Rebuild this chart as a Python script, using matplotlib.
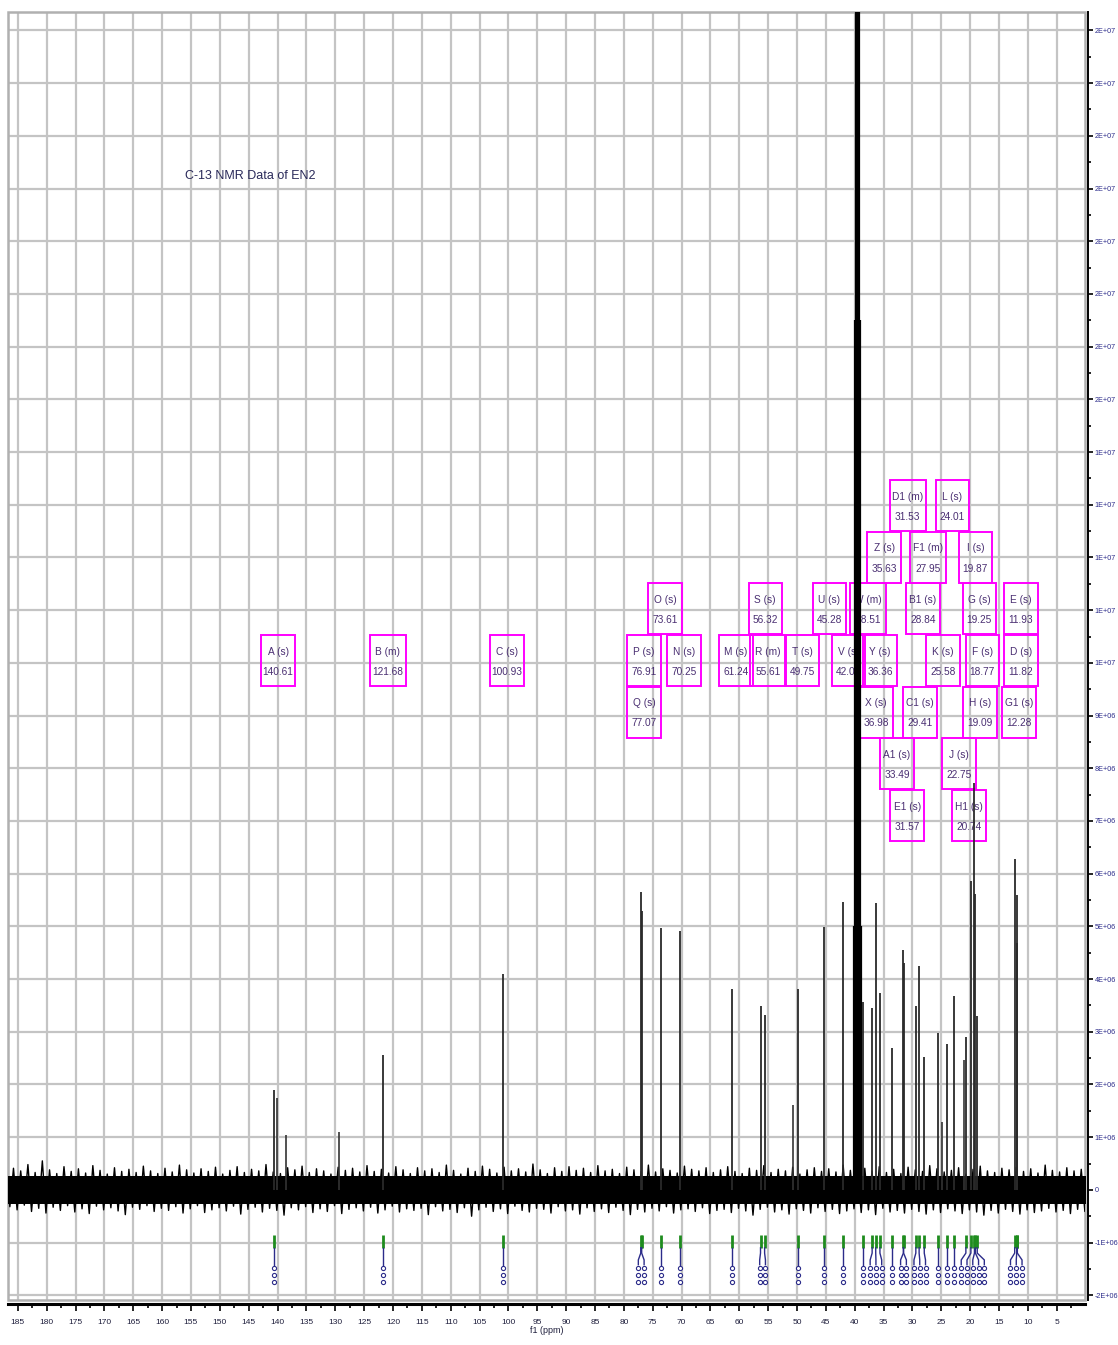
import matplotlib
matplotlib.use("Agg")
import matplotlib.pyplot as plt
from matplotlib.patches import Rectangle
from matplotlib.ticker import MultipleLocator, FuncFormatter

plt.rcParams["font.family"] = ["Liberation Sans Narrow", "Liberation Sans", "DejaVu Sans"]

# assigned 13C signals (shift in ppm, intensity in units of 1e6)
peak_labels = ["A", "B", "C", "Q", "P", "O", "N", "M", "S", "R", "T", "U",
               "V", "W", "X", "Y", "Z", "A1", "E1", "D1", "C1", "B1", "F1",
               "K", "L", "J", "H1", "I", "G", "H", "F", "G1", "E", "D"]
peak_mult = ["s", "m", "s", "s", "s", "s", "s", "s", "s", "m", "s", "s",
             "s", "m", "s", "s", "s", "s", "s", "m", "s", "s", "m",
             "s", "s", "s", "s", "s", "s", "s", "s", "s", "s", "s"]
peak_ppm = [140.61, 121.68, 100.93, 77.07, 76.91, 73.61, 70.25, 61.24,
            56.32, 55.61, 49.75, 45.28, 42.03, 38.51, 36.98, 36.36, 35.63,
            33.49, 31.57, 31.53, 29.41, 28.84, 27.95, 25.58, 24.01, 22.75,
            20.74, 19.87, 19.25, 19.09, 18.77, 12.28, 11.93, 11.82]
peak_height = [1.90, 2.55, 4.10, 5.65, 5.30, 4.97, 4.91, 3.81,
               3.49, 3.32, 3.81, 4.99, 5.46, 3.57, 3.45, 5.44, 3.74,
               2.70, 4.55, 4.30, 3.48, 4.25, 2.52, 2.98, 2.77, 3.68,
               2.90, 5.86, 7.72, 5.62, 3.30, 6.28, 4.69, 5.60]

# weaker lines without an assignment
extra_ppm = [140.10, 138.50, 129.40, 50.70, 24.95, 21.10]
extra_height = [1.75, 1.05, 1.10, 1.61, 1.29, 2.47]

# DMSO-d6 septet
solvent_ppm = [40.13, 39.92, 39.71, 39.50, 39.29, 39.08, 38.87]
solvent_height = [5.0, 16.5, 33.0, 38.5, 33.0, 16.5, 5.0]

# baseline noise: solid core half-width plus spike tips (every 1.25 ppm from 187 ppm)
noise_core = 0.26
noise_top = [0.30, 0.41, 0.36, 0.48, 0.33, 0.55, 0.38, 0.31, 0.44, 0.35,
             0.40, 0.32, 0.46, 0.37, 0.30, 0.42, 0.35, 0.39, 0.33, 0.45,
             0.36, 0.31, 0.41, 0.34, 0.47, 0.38, 0.32, 0.40, 0.35, 0.43,
             0.30, 0.37, 0.44, 0.33, 0.39, 0.36, 0.48, 0.34, 0.31, 0.42,
             0.38, 0.45, 0.33, 0.40, 0.36, 0.30, 0.43, 0.37, 0.41, 0.34,
             0.46, 0.35, 0.39, 0.32, 0.44, 0.38, 0.31, 0.42, 0.36, 0.40,
             0.33, 0.47, 0.37, 0.30, 0.41, 0.35, 0.45, 0.39, 0.32, 0.43,
             0.36, 0.40, 0.34, 0.49, 0.38, 0.31, 0.42, 0.35, 0.44, 0.37,
             0.41, 0.33, 0.46, 0.36, 0.39, 0.31, 0.43, 0.38, 0.35, 0.47,
             0.34, 0.40, 0.37, 0.32, 0.45, 0.39, 0.36, 0.42, 0.33, 0.38,
             0.44, 0.35, 0.31, 0.41, 0.37, 0.46, 0.33, 0.39, 0.36, 0.43,
             0.30, 0.38, 0.42, 0.35, 0.40, 0.34, 0.47, 0.37, 0.32, 0.41,
             0.36, 0.44, 0.33, 0.39, 0.31, 0.43, 0.38, 0.35, 0.46, 0.40,
             0.34, 0.37, 0.42, 0.30, 0.39, 0.45, 0.36, 0.33, 0.41, 0.38,
             0.43, 0.35, 0.40, 0.32, 0.47, 0.37, 0.34, 0.42, 0.36, 0.39,
             0.33]
noise_bottom = [-0.32, -0.38, -0.29, -0.41, -0.35, -0.44, -0.33, -0.39, -0.30, -0.42,
                -0.36, -0.45, -0.31, -0.38, -0.34, -0.40, -0.47, -0.33, -0.37, -0.30,
                -0.41, -0.35, -0.39, -0.32, -0.44, -0.36, -0.30, -0.43, -0.38, -0.34,
                -0.40, -0.31, -0.46, -0.37, -0.33, -0.42, -0.35, -0.39, -0.48, -0.34,
                -0.38, -0.32, -0.43, -0.36, -0.41, -0.30, -0.45, -0.37, -0.34, -0.40,
                -0.33, -0.44, -0.38, -0.31, -0.42, -0.36, -0.39, -0.35, -0.47, -0.32,
                -0.40, -0.37, -0.43, -0.34, -0.50, -0.38, -0.33, -0.41, -0.36, -0.45,
                -0.31, -0.39, -0.42, -0.35, -0.37, -0.44, -0.32, -0.40, -0.38, -0.46,
                -0.34, -0.41, -0.36, -0.43, -0.33, -0.39, -0.47, -0.37, -0.42, -0.35,
                -0.40, -0.32, -0.44, -0.38, -0.36, -0.41, -0.34, -0.45, -0.39, -0.37,
                -0.43, -0.35, -0.40, -0.48, -0.37, -0.33, -0.42, -0.38, -0.46, -0.36,
                -0.39, -0.44, -0.34, -0.41, -0.37, -0.45, -0.40, -0.36, -0.43, -0.38,
                -0.47, -0.35, -0.42, -0.39, -0.44, -0.37, -0.41, -0.46, -0.38, -0.43,
                -0.36, -0.40, -0.45, -0.38, -0.42, -0.48, -0.39, -0.44, -0.37, -0.41,
                -0.46, -0.38, -0.43, -0.40, -0.35, -0.42, -0.39, -0.45, -0.37, -0.41,
                -0.38]
NOISE_START = 187.0
NOISE_STEP = 1.25

# annotation box layout: centre (ppm) and stacking row, same order as peak_labels
box_center = [139.9, 120.9, 100.25, 76.5, 76.5, 72.9, 69.6, 60.6,
              55.5, 55.0, 49.1, 44.4, 41.1, 37.7, 36.3, 35.6, 34.9,
              32.7, 30.9, 30.8, 28.7, 28.2, 27.3, 24.7, 23.1, 21.9,
              20.2, 19.1, 18.4, 18.3, 17.9, 11.5, 11.2, 11.2]
box_row = [3, 3, 3, 2, 3, 4, 3, 3,
           4, 3, 3, 4, 3, 4, 2, 3, 5,
           1, 0, 6, 2, 4, 5, 3, 6, 1,
           0, 5, 4, 2, 3, 2, 4, 3]

SCALE = 1e6
BOX_W = 5.8
BOX_H = 0.97
ROW0_TOP = 7.59
ROW_STEP = 0.98
GRID = "#c4c4c4"
MAGENTA = "#ff00ff"
LABEL_INK = "#4a2f72"
NAVY = "#2c2c8a"
GREEN = "#1e8c1e"


def y_fmt(v, _pos):
    if abs(v) < 1:
        return "0"
    return "%.0E" % v


def spread(xs, gap):
    # push neighbouring stacks apart so they keep a minimum spacing
    xs = list(xs)
    for _ in range(400):
        moved = False
        for i in range(len(xs) - 1):
            d = xs[i] - xs[i + 1]
            if d < gap - 1e-6:
                push = (gap - d) / 2
                xs[i] += push
                xs[i + 1] -= push
                moved = True
        if not moved:
            break
    return xs


fig = plt.figure(figsize=(11.18, 13.45), dpi=100)
ax = fig.add_axes([8 / 1118, 1 - 1300 / 1345, 1077 / 1118, 1288 / 1345])
ax.set_xlim(186.7, 0.1)
ax.set_ylim(-2.09 * SCALE, 22.35 * SCALE)

# grid + light frame
ax.xaxis.set_major_locator(MultipleLocator(5))
ax.xaxis.set_minor_locator(MultipleLocator(2.5))
ax.yaxis.set_major_locator(MultipleLocator(1 * SCALE))
ax.yaxis.set_minor_locator(MultipleLocator(0.5 * SCALE))
ax.grid(which="major", color=GRID, linewidth=1.6)
ax.set_axisbelow(True)
ax.add_patch(Rectangle((0, 0), 1, 1, transform=ax.transAxes, fill=False,
                       edgecolor="#b0b0b0", linewidth=1.8, clip_on=False, zorder=1))

for side in ["left", "top"]:
    ax.spines[side].set_visible(False)
ax.spines["right"].set_position(("outward", 2.5))
ax.spines["right"].set_linewidth(1.4)
ax.spines["bottom"].set_position(("outward", 3))
ax.spines["bottom"].set_linewidth(2.2)

ax.yaxis.tick_right()
ax.yaxis.set_major_formatter(FuncFormatter(y_fmt))
ax.tick_params(axis="y", which="major", direction="out", length=3.5, width=1.2,
               labelsize=5.2, labelcolor=NAVY, pad=1)
ax.tick_params(axis="y", which="minor", direction="out", length=2, width=1.2)
ax.tick_params(axis="x", which="major", direction="out", length=5, width=1.2,
               labelsize=6, labelcolor="#1e1e3c", pad=6)
ax.tick_params(axis="x", which="minor", direction="out", length=3, width=1.2)
ax.set_xticks([t for t in range(185, 0, -5)])
ax.set_xticklabels([str(t) for t in range(185, 0, -5)])
ax.set_xlabel("f1 (ppm)", fontsize=6.5, color="#1e1e3c", labelpad=0)

# spectrum: noise band (core + spikes) and the resonance lines
noise_ppm = [NOISE_START - NOISE_STEP * i for i in range(len(noise_top))]
ax.fill_between([noise_ppm[0], noise_ppm[-1]], -noise_core * SCALE, noise_core * SCALE,
                color="black", linewidth=0, zorder=3)
zig_x, zig_y = [], []
for p, top, bot in zip(noise_ppm, noise_top, noise_bottom):
    zig_x += [p, p - NOISE_STEP / 2]
    zig_y += [top * SCALE, bot * SCALE]
ax.plot(zig_x, zig_y, color="black", linewidth=1.0, zorder=3)
ax.vlines(extra_ppm, 0, [h * SCALE for h in extra_height], color="#333333",
          linewidth=1.2, zorder=4)
ax.vlines(peak_ppm, 0, [h * SCALE for h in peak_height], color="#2a2a2a",
          linewidth=1.3, zorder=4)
ax.vlines(solvent_ppm, 0, [h * SCALE for h in solvent_height], color="black",
          linewidth=1.6, zorder=4)

# peak annotation boxes
for lab, mult, ppm, cx, row in zip(peak_labels, peak_mult, peak_ppm, box_center, box_row):
    top = (ROW0_TOP + row * ROW_STEP) * SCALE
    w = BOX_W + (0.4 if mult == "m" else 0.0)
    ax.add_patch(Rectangle((cx + w / 2, top - BOX_H * SCALE), -w, BOX_H * SCALE,
                           fill=False, edgecolor=MAGENTA, linewidth=1.4, zorder=2))
    ax.text(cx, top - 0.32 * SCALE, f"{lab} ({mult})", ha="center", va="center",
            fontsize=7.3, color=LABEL_INK, zorder=2)
    ax.text(cx, top - 0.70 * SCALE, f"{ppm:.2f}", ha="center", va="center",
            fontsize=7.3, color=LABEL_INK, zorder=2)

# multiplet markers under the baseline
order = sorted(range(len(peak_ppm)), key=lambda i: -peak_ppm[i])
sorted_ppm = [peak_ppm[i] for i in order]
stack_x = spread(sorted_ppm, 1.0)
for ppm, sx in zip(sorted_ppm, stack_x):
    ax.plot([ppm, ppm], [-0.85 * SCALE, -1.10 * SCALE], color=GREEN, linewidth=2, zorder=5,
            solid_capstyle="butt")
    ax.plot([ppm, ppm, sx, sx], [-1.10 * SCALE, -1.20 * SCALE, -1.33 * SCALE, -1.42 * SCALE],
            color=NAVY, linewidth=1, zorder=5)
    ax.plot([sx, sx, sx], [-1.49 * SCALE, -1.62 * SCALE, -1.75 * SCALE], linestyle="none",
            marker="o", markersize=3, markerfacecolor="white", markeredgecolor=NAVY,
            markeredgewidth=0.8, zorder=5)

fig.text(185 / 1118, 1 - 176 / 1345, "C-13 NMR Data of EN2", fontsize=9,
         color="#2a2a5a", ha="left", va="center")

fig.savefig("out.png", dpi=100)
